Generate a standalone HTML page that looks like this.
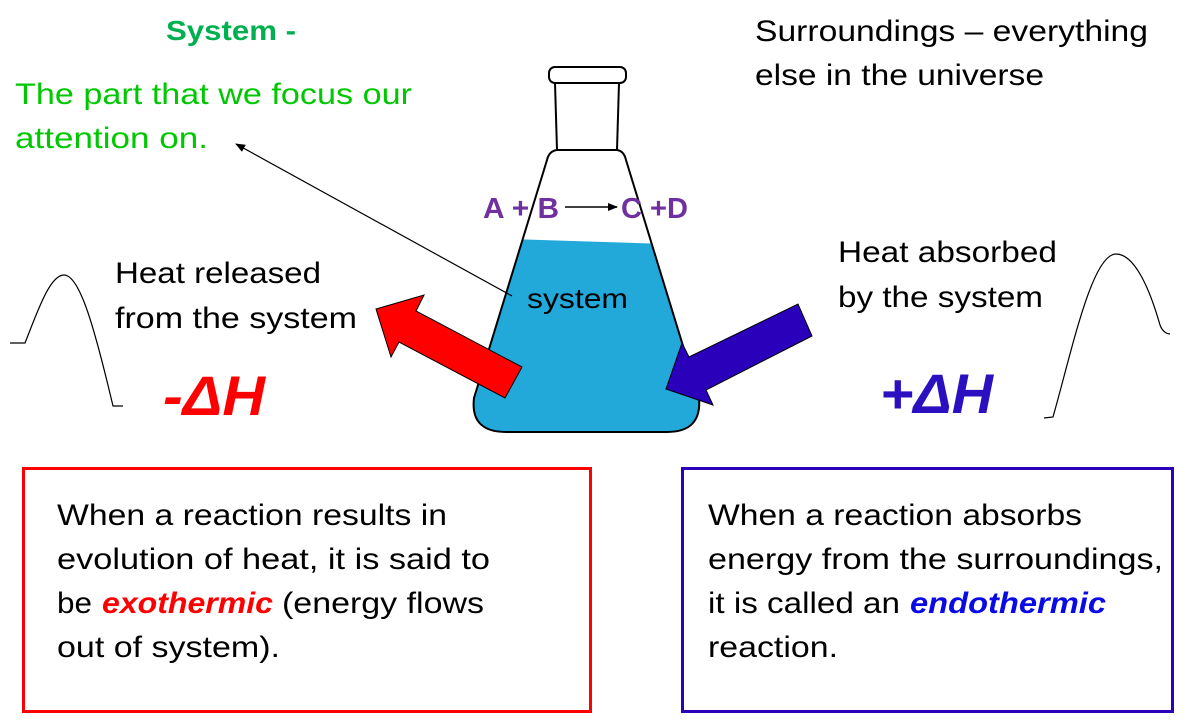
<!DOCTYPE html>
<html>
<head>
<meta charset="utf-8">
<style>
  html, body { margin: 0; padding: 0; background: #fff; }
  svg { display: block; }
  text { font-family: "Liberation Sans", "DejaVu Sans", sans-serif; }
</style>
</head>
<body>
<svg width="1200" height="727" viewBox="0 0 1200 727" xmlns="http://www.w3.org/2000/svg">
  <defs>
    <clipPath id="body">
      <path d="M557,150 Q549,151 547,160 L474,398 Q470,432 506,432 L667,432 Q702,432 699,398 L626,160 Q624,151 617,150 Z"/>
    </clipPath>
    <marker id="ah" markerWidth="10" markerHeight="8" refX="9" refY="4" orient="auto" markerUnits="userSpaceOnUse">
      <path d="M0,0 L10,4 L0,8 Z" fill="#000"/>
    </marker>
  </defs>

  <!-- Top left green text -->
  <text x="166" y="40" font-size="28" font-weight="bold" fill="#00b050" textLength="130" lengthAdjust="spacingAndGlyphs">System -</text>
  <text x="15" y="104" font-size="30" fill="#00c800" textLength="397" lengthAdjust="spacingAndGlyphs">The part that we focus our</text>
  <text x="15" y="148" font-size="30" fill="#00c800" textLength="193" lengthAdjust="spacingAndGlyphs">attention on.</text>

  <!-- Surroundings -->
  <text x="755" y="41" font-size="30" fill="#000" textLength="393" lengthAdjust="spacingAndGlyphs">Surroundings – everything</text>
  <text x="755" y="85" font-size="30" fill="#000" textLength="289" lengthAdjust="spacingAndGlyphs">else in the universe</text>

  <!-- Flask liquid -->
  <g clip-path="url(#body)">
    <polygon points="400,235.5 760,247 760,450 400,450" fill="#22a9da"/>
  </g>

  <!-- Flask outline -->
  <path d="M557,150 Q549,151 547,160 L474,398 Q470,432 506,432 L667,432 Q702,432 699,398 L626,160 Q624,151 617,150" fill="none" stroke="#000" stroke-width="2"/>
  <line x1="557" y1="150" x2="617" y2="150" stroke="#000" stroke-width="2"/>
  <line x1="555" y1="83" x2="557" y2="150" stroke="#000" stroke-width="2"/>
  <line x1="619" y1="83" x2="617" y2="150" stroke="#000" stroke-width="2"/>
  <rect x="549" y="67" width="77" height="16" rx="6" ry="6" fill="#fff" stroke="#000" stroke-width="2"/>

  <!-- Reaction -->
  <text x="483" y="218" font-size="29" font-weight="bold" fill="#7030a0" textLength="76" lengthAdjust="spacingAndGlyphs">A + B</text>
  <line x1="565" y1="207" x2="617" y2="207" stroke="#000" stroke-width="1.5" marker-end="url(#ah)"/>
  <text x="621" y="218" font-size="29" font-weight="bold" fill="#7030a0" textLength="67" lengthAdjust="spacingAndGlyphs">C +D</text>

  <!-- system label + leader -->
  <text x="527" y="308" font-size="28" fill="#000" textLength="101" lengthAdjust="spacingAndGlyphs">system</text>
  <line x1="512" y1="296" x2="236" y2="144" stroke="#000" stroke-width="1.2" marker-end="url(#ah)"/>

  <!-- Red arrow -->
  <polygon points="376,309 424,295 416,311 522,367 505,398 399,342 391,357" fill="#ff0000" stroke="#000" stroke-width="1"/>

  <!-- Blue arrow -->
  <polygon points="666,389 713,405 706,390 812,336 798,304 689,357 682,343" fill="#2a00bb" stroke="#000" stroke-width="1"/>

  <!-- Heat released -->
  <text x="115" y="283" font-size="30" fill="#000" textLength="206" lengthAdjust="spacingAndGlyphs">Heat released</text>
  <text x="115" y="328" font-size="30" fill="#000" textLength="242" lengthAdjust="spacingAndGlyphs">from the system</text>
  <text x="163" y="415" font-size="56" font-weight="bold" font-style="italic" fill="#ff0000" textLength="102" lengthAdjust="spacingAndGlyphs">-ΔH</text>

  <!-- Heat absorbed -->
  <text x="838" y="262" font-size="30" fill="#000" textLength="219" lengthAdjust="spacingAndGlyphs">Heat absorbed</text>
  <text x="838" y="307" font-size="30" fill="#000" textLength="205" lengthAdjust="spacingAndGlyphs">by the system</text>
  <text x="880" y="413" font-size="56" font-weight="bold" font-style="italic" fill="#2a10c0" textLength="113" lengthAdjust="spacingAndGlyphs">+ΔH</text>

  <!-- Energy curves -->
  <path d="M10,343 L25,343 C38,310 50,275 64,275 C80,275 95,330 113,406 L123,406" fill="none" stroke="#000" stroke-width="1.2"/>
  <path d="M1044,418 L1053,417 C1072,350 1092,254 1116,254 C1135,254 1150,290 1160,325 C1163,333 1168,334 1170,334" fill="none" stroke="#000" stroke-width="1.2"/>

  <!-- Red box -->
  <rect x="23.5" y="468.5" width="567" height="243" fill="none" stroke="#ff0000" stroke-width="3"/>
  <text x="57" y="525" font-size="30" fill="#000" textLength="390" lengthAdjust="spacingAndGlyphs">When a reaction results in</text>
  <text x="57" y="569" font-size="30" fill="#000" textLength="433" lengthAdjust="spacingAndGlyphs">evolution of heat, it is said to</text>
  <text x="57" y="613" font-size="30" fill="#000" textLength="35" lengthAdjust="spacingAndGlyphs">be</text>
  <text x="102" y="613" font-size="30" font-weight="bold" font-style="italic" fill="#ff0000" textLength="171" lengthAdjust="spacingAndGlyphs">exothermic</text>
  <text x="282" y="613" font-size="30" fill="#000" textLength="202" lengthAdjust="spacingAndGlyphs">(energy flows</text>
  <text x="57" y="657" font-size="30" fill="#000" textLength="223" lengthAdjust="spacingAndGlyphs">out of system).</text>

  <!-- Blue box -->
  <rect x="682.5" y="468.5" width="490" height="243" fill="none" stroke="#2a00bb" stroke-width="3"/>
  <text x="708" y="525" font-size="30" fill="#000" textLength="374" lengthAdjust="spacingAndGlyphs">When a reaction absorbs</text>
  <text x="708" y="569" font-size="30" fill="#000" textLength="455" lengthAdjust="spacingAndGlyphs">energy from the surroundings,</text>
  <text x="708" y="613" font-size="30" fill="#000" textLength="192" lengthAdjust="spacingAndGlyphs">it is called an</text>
  <text x="910" y="613" font-size="30" font-weight="bold" font-style="italic" fill="#0a0ae6" textLength="196" lengthAdjust="spacingAndGlyphs">endothermic</text>
  <text x="708" y="657" font-size="30" fill="#000" textLength="130" lengthAdjust="spacingAndGlyphs">reaction.</text>
</svg>
</body>
</html>
